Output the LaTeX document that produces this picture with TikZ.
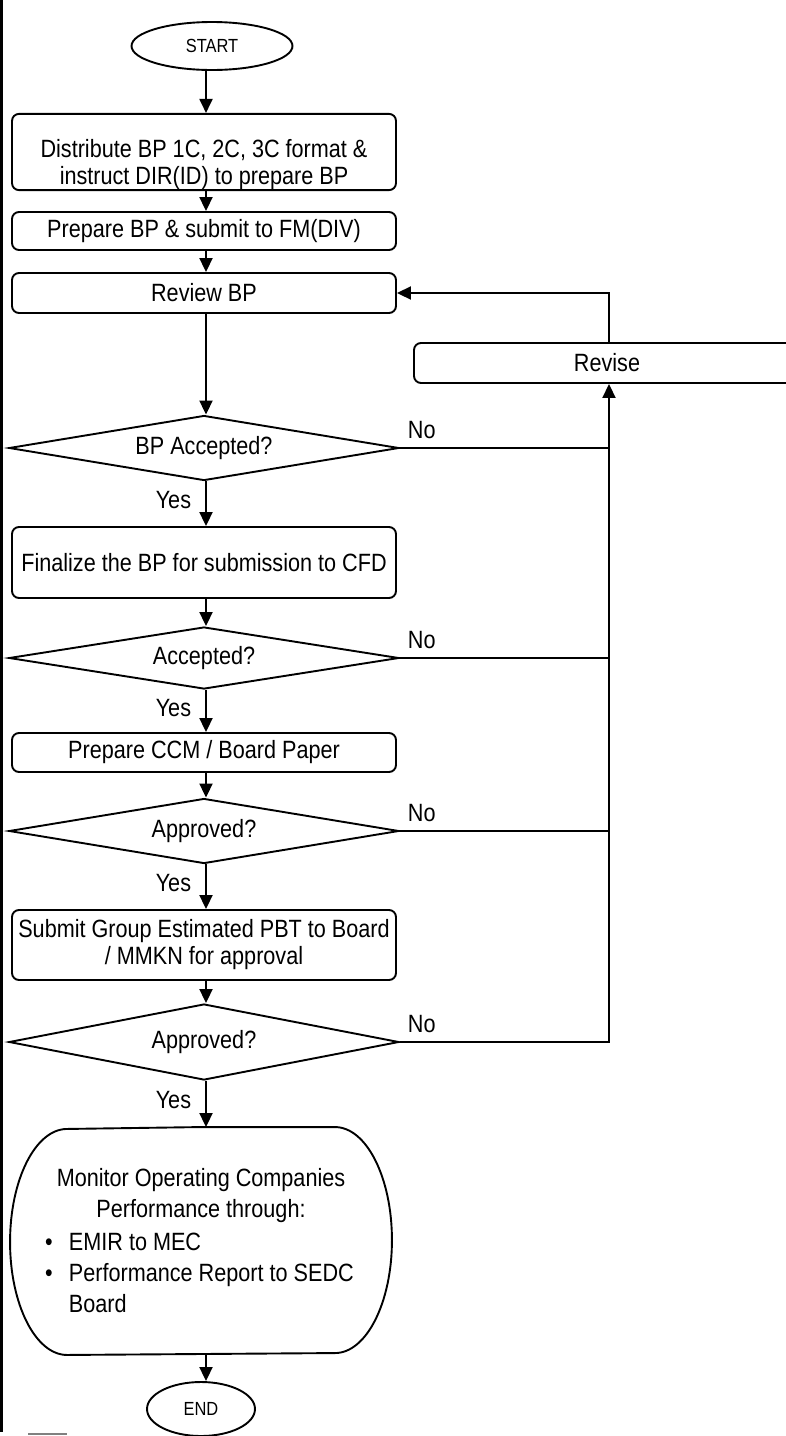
\documentclass[tikz,border=0pt]{standalone}
\usepackage{fontspec}
\setmainfont[FakeStretch=0.865]{Liberation Sans}
\usetikzlibrary{shapes.geometric,arrows.meta,calc}
\begin{document}
\begin{tikzpicture}[x=1pt,y=1pt,
  line width=1.9pt,
  every node/.style={font=\fontsize{25}{27}\selectfont, inner sep=0pt},
  procbox/.style={draw, rounded corners=7pt, minimum width=384pt, align=center},
  decision/.style={draw, diamond, minimum width=390pt, aspect=6},
  term/.style={draw, ellipse, font=\fontsize{19}{20}\selectfont},
  arr/.style={-{Triangle[width=13pt,length=14pt]}}]
\useasboundingbox (0,0) rectangle (786,-1436);
\coordinate (ax) at (206,0);
\coordinate (rx) at (609,0);
% left border
\draw[line width=3pt] (1.5,0) -- (1.5,-1432);
\draw[line width=1.2pt, gray] (28,-1434) -- (67,-1434);
% nodes
\node[term, minimum width=161pt, minimum height=48pt] (start) at (212,-46) {START};
\node[procbox, minimum height=74pt] (b1) at (204,-152) {\rule{0pt}{44pt}Distribute BP 1C, 2C, 3C format \&\\instruct DIR(ID) to prepare BP};
\node[procbox, minimum height=38pt] (b2) at (204,-231) {Prepare BP \& submit to FM(DIV)};
\node[procbox, minimum height=40pt] (review) at (204,-293) {Review BP};
\node[decision, minimum height=65pt] (d1) at (204,-448) {BP Accepted?};
\node[procbox, minimum height=71pt] (fin) at (204,-562.5) {Finalize the BP for submission to CFD};
\node[decision, minimum height=62pt] (d2) at (204,-658) {Accepted?};
\node[procbox, minimum height=39pt] (ccm) at (204,-752.5) {Prepare CCM / Board Paper};
\node[decision, minimum height=65pt] (d3) at (204,-831) {Approved?};
\node[procbox, minimum height=70pt] (sub) at (204,-945) {Submit Group Estimated PBT to Board\\/ MMKN for approval};
\node[decision, minimum height=76pt] (d4) at (204,-1042) {Approved?};
\node[minimum width=266pt, minimum height=226pt] (mon) at (201,-1241) {};
\draw[line join=round] (mon.north) -- (mon.north east)
  arc[start angle=90, end angle=-90, x radius=57pt, y radius=113pt]
  -- (mon.south west)
  arc[start angle=270, end angle=90, x radius=57pt, y radius=113pt] -- cycle;
\node[anchor=base] (m1) at (201,-1186) {Monitor Operating Companies};
\node[anchor=base] (m2) at (201,-1217) {Performance through:};
\node[anchor=base west] (m3) at (68,-1250) {EMIR to MEC};
\node[anchor=base west] (m4) at (68,-1281) {Performance Report to SEDC};
\node[anchor=base west] (m5) at (68,-1312) {Board};
\node[anchor=base] (bl1) at (49,-1250) {\textbullet};
\node[anchor=base] (bl2) at (49,-1281) {\textbullet};
\node[term, minimum width=108pt, minimum height=54pt] (end) at (201,-1409) {END};
\node[procbox, minimum width=386pt, minimum height=40pt] (rev) at (607,-363) {Revise};
% main flow
\draw[arr] (start.south -| ax) -- (b1.north -| ax);
\draw[arr] (b1.south -| ax) -- (b2.north -| ax);
\draw[arr] (b2.south -| ax) -- (review.north -| ax);
\draw[arr] (review.south -| ax) -- (d1.north -| ax);
\draw[arr] (d1.south -| ax) -- (fin.north -| ax);
\draw[arr] (fin.south -| ax) -- (d2.north -| ax);
\draw[arr] (d2.south -| ax) -- (ccm.north -| ax);
\draw[arr] (ccm.south -| ax) -- (d3.north -| ax);
\draw[arr] (d3.south -| ax) -- (sub.north -| ax);
\draw[arr] (sub.south -| ax) -- (d4.north -| ax);
\draw[arr] (d4.south -| ax) -- (mon.north -| ax);
\draw[arr] (mon.south -| ax) -- (end.north -| ax);
% yes labels
\node[anchor=base east] (y1) at ($(d1.south)+(-12,-27)$) {Yes};
\node[anchor=base east] (y2) at ($(d2.south)+(-12,-27)$) {Yes};
\node[anchor=base east] (y3) at ($(d3.south)+(-12,-27)$) {Yes};
\node[anchor=base east] (y4) at ($(d4.south)+(-12,-28)$) {Yes};
% no branches
\draw (d1.east) -- (d1.east -| rx);
\draw (d2.east) -- (d2.east -| rx);
\draw (d3.east) -- (d3.east -| rx);
\draw[arr] (d4.east) -- (d4.east -| rx) -- (rev.south -| rx);
\draw[arr] (rev.north -| rx) |- (review.east);
\node[anchor=base west] (n1) at ($(d1.east)+(7,10)$) {No};
\node[anchor=base west] (n2) at ($(d2.east)+(7,10)$) {No};
\node[anchor=base west] (n3) at ($(d3.east)+(7,10)$) {No};
\node[anchor=base west] (n4) at ($(d4.east)+(7,10)$) {No};
\end{tikzpicture}
\end{document}
